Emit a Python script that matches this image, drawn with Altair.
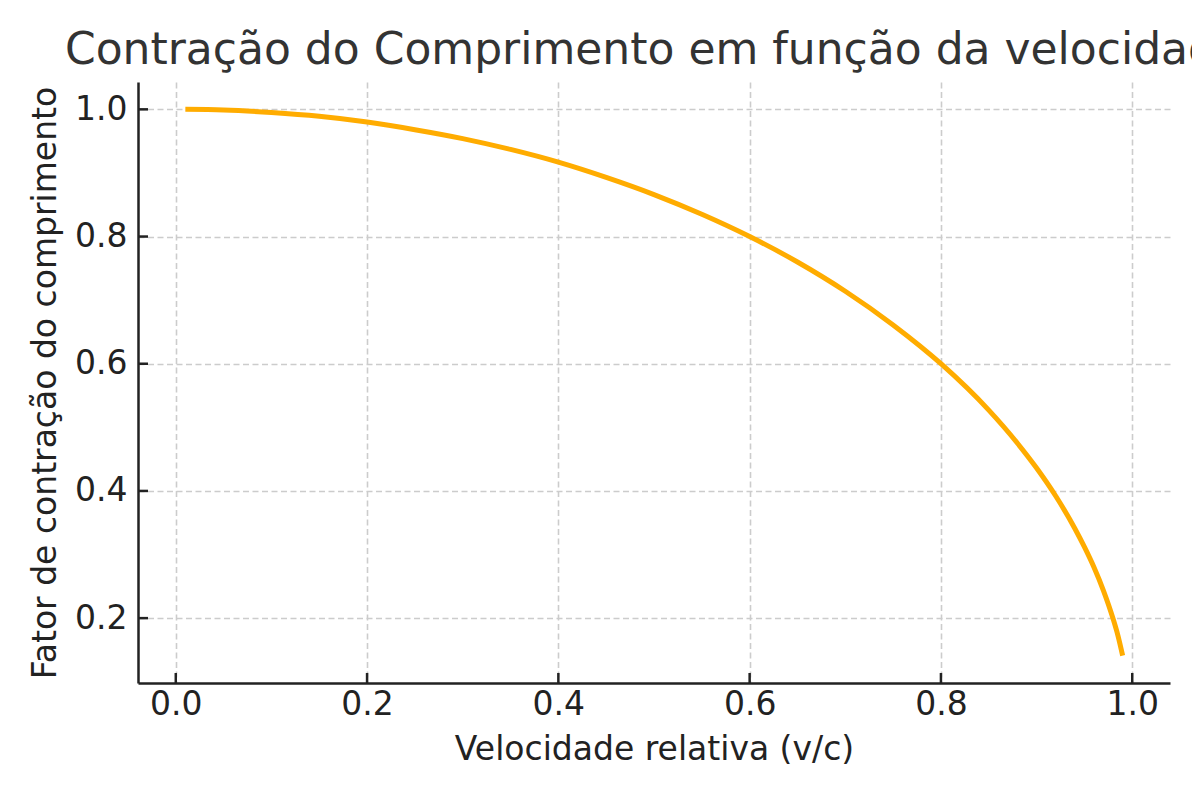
import altair as alt
import pandas as pd

# Values
velocidade = [0.01, 0.05, 0.10, 0.15, 0.20, 0.25, 0.30, 0.35, 0.40, 0.45, 0.50,
              0.55, 0.60, 0.65, 0.70, 0.75, 0.80, 0.85, 0.88, 0.90, 0.92, 0.94,
              0.95, 0.96, 0.97, 0.98, 0.985, 0.99]
fator = [1.000, 0.999, 0.995, 0.989, 0.980, 0.968, 0.954, 0.937, 0.917, 0.893, 0.866,
         0.835, 0.800, 0.760, 0.714, 0.661, 0.600, 0.527, 0.475, 0.436, 0.392, 0.341,
         0.312, 0.280, 0.243, 0.199, 0.173, 0.141]

x_ticks = [0.0, 0.2, 0.4, 0.6, 0.8, 1.0]
y_ticks = [0.2, 0.4, 0.6, 0.8, 1.0]

titulo = "Contração do Comprimento em função da velocidade"
x_label = "Velocidade relativa (v/c)"
y_label = "Fator de contração do comprimento"

df = pd.DataFrame({"v": velocidade, "f": fator})
df_xt = pd.DataFrame({"v": x_ticks})
df_yt = pd.DataFrame({"f": y_ticks})

FONT = "DejaVu Sans"
xscale = alt.Scale(domain=[-0.0395, 1.0395], nice=False, zero=False)
yscale = alt.Scale(domain=[0.098, 1.043], nice=False, zero=False)

line = alt.Chart(df).mark_line(color="#FFAC00", strokeWidth=5, interpolate="monotone").encode(
    x=alt.X("v:Q", scale=xscale, title=x_label,
            axis=alt.Axis(values=x_ticks, format=".1f", tickSize=0, labelPadding=5,
                          titlePadding=12)),
    y=alt.Y("f:Q", scale=yscale, title=y_label,
            axis=alt.Axis(values=y_ticks, format=".1f", tickSize=0, labelPadding=11,
                          titlePadding=12)),
)

xt = alt.Chart(df_xt).mark_rule(color="#222222", strokeWidth=2.5).encode(
    x=alt.X("v:Q", scale=xscale), y=alt.value(601), y2=alt.value(591)
)
yt = alt.Chart(df_yt).mark_rule(color="#222222", strokeWidth=2.5).encode(
    y=alt.Y("f:Q", scale=yscale), x=alt.value(0), x2=alt.value(10)
)

chart = alt.layer(line, xt, yt).properties(
    width=1032, height=601,
    title=alt.TitleParams(titulo, anchor="middle", fontSize=44, font=FONT,
                          color="#333333", fontWeight="normal", offset=9),
    autosize=alt.AutoSizeParams(type="none"),
    padding={"left": 130, "top": 74, "right": 22, "bottom": 100},
).configure_view(stroke=None).configure_axis(
    labelFont=FONT, titleFont=FONT, labelFontSize=33, titleFontSize=33,
    labelColor="#222222", titleColor="#222222", titleFontWeight="normal",
    domainColor="#222222", domainWidth=2.5,
    grid=True, gridColor="#cccccc", gridDash=[6, 3.5], gridWidth=1.6,
)

chart.save("out.html", embed_options={"renderer": "svg", "actions": False})
